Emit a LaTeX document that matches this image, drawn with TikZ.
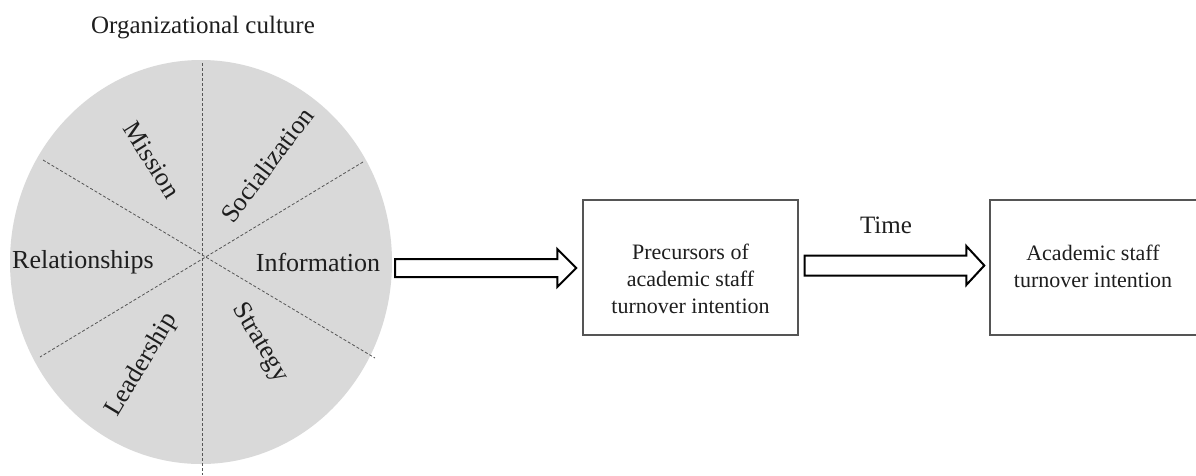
\documentclass[tikz,border=0pt]{standalone}
\usepackage{fontspec}
\setmainfont{Liberation Serif}
\usetikzlibrary{calc}
\definecolor{discfill}{HTML}{D9D9D9}
\definecolor{linegray}{HTML}{555555}
\definecolor{txt}{HTML}{1E1E1E}
\tikzset{
  big/.style={font=\fontsize{25}{30}\selectfont, text=txt, inner sep=0pt},
  seg/.style={font=\fontsize{26}{30}\selectfont, text=txt, inner sep=0pt},
  boxtxt/.style={font=\fontsize{22}{27}\selectfont, text=txt, align=center, inner sep=0pt},
  stagebox/.style={draw=linegray, line width=1.4pt, fill=white, inner sep=0pt},
  divider/.style={draw=linegray, line width=0.8pt, dash pattern=on 3pt off 2pt},
  fatarrow/.style={draw=black, line width=2pt, fill=white, line join=miter},
}
\begin{document}
\begin{tikzpicture}[x=1pt, y=-1pt]
\useasboundingbox (0,0) rectangle (1196,475);
\fill[white] (0,0) rectangle (1196,475);

% disc
\coordinate (c) at (201,262);
\fill[discfill] (c) ellipse [x radius=191pt, y radius=202pt];

% dividers
\coordinate (vt) at (202,63);
\coordinate (vb) at (202,475);
\coordinate (d1a) at (43,160);
\coordinate (d1b) at (375,358);
\coordinate (d2a) at (363,162);
\coordinate (d2b) at (40,357);
\draw[divider] (vt) -- (vb);
\draw[divider] (d1a) -- (d1b);
\draw[divider] (d2a) -- (d2b);

% labels
\node[big] (title) at (203,28) {Organizational culture};
\node[seg, rotate=-58] (mission) at (152,160) {Mission};
\node[seg, rotate=53] (social) at (267,165) {Socialization};
\node[seg] (rel) at (83,262) {Relationships};
\node[seg] (info) at (318,262) {Information};
\node[seg, rotate=59] (lead) at (142,365) {Leadership};
\node[seg, rotate=-59] (strat) at (260,343) {Strategy};

% boxes
\node[stagebox, minimum width=215pt, minimum height=135pt] (b1) at (690.5,267.5) {};
\node[boxtxt] (b1t) at (690.5,279) {Precursors of\\academic staff\\turnover intention};
\node[stagebox, minimum width=208pt, minimum height=135pt] (b2) at (1094,267.5) {};
\node[boxtxt] (b2t) at (1093,266) {Academic staff\\turnover intention};

% arrow 1
\coordinate (a1s) at (395,268);
\coordinate (a1e) at ($(b1.west)+(-6,0.5)$);
\draw[fatarrow] ($(a1s)+(0,-9)$) -- ($(a1e)+(-19,-9)$) -- ($(a1e)+(-19,-19)$) -- (a1e)
  -- ($(a1e)+(-19,19)$) -- ($(a1e)+(-19,9)$) -- ($(a1s)+(0,9)$) -- cycle;

% arrow 2
\coordinate (a2s) at ($(b1.east)+(6,-2)$);
\coordinate (a2e) at ($(b2.west)+(-5,-2)$);
\draw[fatarrow] ($(a2s)+(0,-10)$) -- ($(a2e)+(-18,-10)$) -- ($(a2e)+(-18,-19.5)$) -- (a2e)
  -- ($(a2e)+(-18,19.5)$) -- ($(a2e)+(-18,10)$) -- ($(a2s)+(0,10)$) -- cycle;
\node[big] (time) at (886,225) {Time};
\end{tikzpicture}
\end{document}
